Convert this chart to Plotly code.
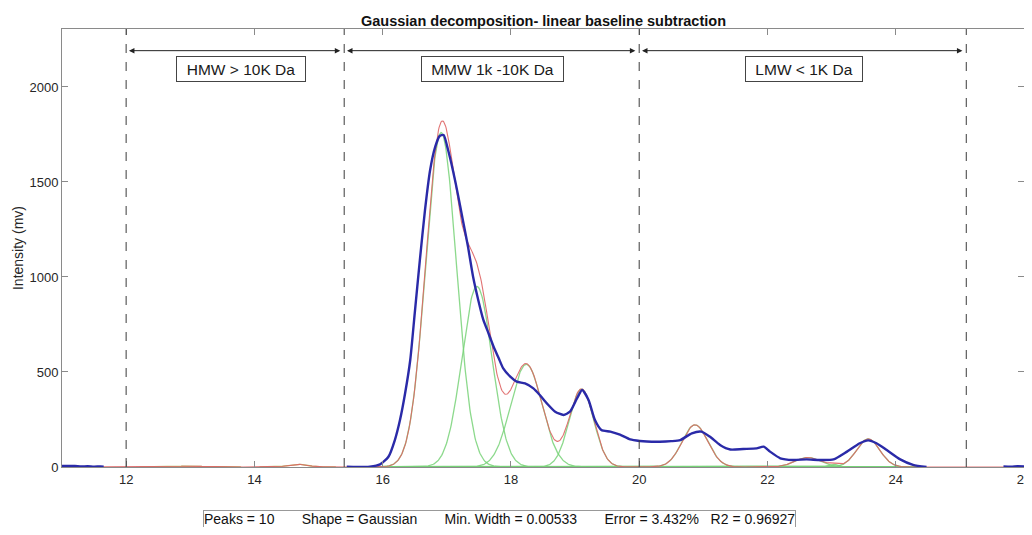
import numpy as np
import plotly.graph_objects as go

# ---------------- data ----------------
# Gaussian components: centre, height, sigma
peak_center = [13.0, 14.68, 16.91, 17.47, 18.24, 19.10, 20.87, 22.63, 23.03, 23.57]
peak_height = [5, 14, 1760, 950, 540, 410, 222, 50, 14, 148]
peak_sigma  = [0.20, 0.15, 0.24, 0.235, 0.245, 0.19, 0.20, 0.20, 0.08, 0.18]

# measured signal (blue), segments separated by None where hidden
meas_x = [11.0, 11.1, 11.2, 11.3, 11.4, 11.5, 11.6, 11.65, None,
          15.44, 15.6, 15.8, 15.96, 16.09, 16.19, 16.27, 16.35, 16.43, 16.50, 16.58,
          16.66, 16.74, 16.82, 16.89, 16.95, 17.02, 17.10, 17.17, 17.25, 17.33,
          17.41, 17.49, 17.57, 17.65, 17.73, 17.81, 17.88, 17.99, 18.09, 18.22,
          18.35, 18.45, 18.56, 18.69, 18.82, 18.92, 19.03, 19.11, 19.21, 19.31,
          19.41, 19.55, 19.70, 19.86, 20.01, 20.12, 20.32, 20.50, 20.64, 20.82,
          20.97, 21.10, 21.26, 21.42, 21.62, 21.83, 21.94, 22.04, 22.20, 22.40,
          22.61, 22.82, 23.03, 23.24, 23.44, 23.57, 23.70, 23.86, 24.07, 24.27,
          24.48, None, 25.68, 25.8, 25.9, 26.0]
meas_y = [6, 5, 5, 3, 4, 2, 3, 2, None,
          1, 0, 2, 14, 54, 142, 247, 388, 563, 809, 1089,
          1352, 1563, 1686, 1742, 1747, 1668, 1554, 1440, 1300, 1160,
          1001, 879, 774, 704, 633, 572, 519, 475, 449, 440,
          414, 379, 335, 291, 274, 291, 361, 405, 353, 247,
          195, 186, 170, 145, 137, 134, 133, 136, 142, 177,
          186, 160, 116, 92, 95, 98, 107, 81, 46, 37,
          40, 37, 40, 81, 125, 140, 125, 89, 40, 11,
          0, None, 3, 2, 4, 3]

# region boundaries and labels
bound_x = [12.0, 15.4, 20.0, 25.1]
region_labels = ["HMW > 10K Da", "MMW 1k -10K Da", "LMW < 1K Da"]
region_label_x = [13.79, 17.705, 22.57]
region_label_y = 2097
arrow_y = 2191

title_text = "Gaussian decomposition- linear baseline subtraction"
y_title = "Intensity (mv)"
stats_text = ("Peaks = 10       Shape = Gaussian       Min. Width = 0.00533       "
              "Error = 3.432%   R2 = 0.96927")

x_ticks = [12, 14, 16, 18, 20, 22, 24, 26]
y_ticks = [0, 500, 1000, 1500, 2000]

# ---------------- figure ----------------
grid = np.linspace(11, 26, 1501)
comps = [h * np.exp(-0.5 * ((grid - c) / s) ** 2)
         for c, h, s in zip(peak_center, peak_height, peak_sigma)]
fit = np.sum(comps, axis=0)

fig = go.Figure()

# green components
win = (grid >= 15.9) & (grid <= 24.4)
for i, comp in enumerate(comps):
    if peak_center[i] < 15.9:
        mask = np.abs(grid - peak_center[i]) < 4 * peak_sigma[i]
        col = "rgba(160,175,70,0.8)"
    else:
        mask = win
        col = "rgba(120,210,120,0.85)"
    fig.add_trace(go.Scatter(x=grid[mask], y=comp[mask], mode="lines",
                             line=dict(color=col, width=1.3),
                             hoverinfo="skip", showlegend=False))

# red fitted sum
fig.add_trace(go.Scatter(x=grid, y=fit, mode="lines",
                         line=dict(color="rgba(222,100,100,0.9)", width=1.1),
                         showlegend=False))

# blue measured data
fig.add_trace(go.Scatter(x=meas_x, y=meas_y, mode="lines",
                         line=dict(color="#2a2aa8", width=2.4, shape="spline",
                                   smoothing=0.6),
                         connectgaps=False, showlegend=False))

shapes = []
for bx in bound_x:
    shapes.append(dict(type="line", xref="x", yref="paper", x0=bx, x1=bx,
                       y0=0, y1=1, line=dict(color="#3a3a3a", width=1, dash="dash")))
fig.update_layout(shapes=shapes)

annotations = []
box_w = [126, 139, 114]
for i in range(3):
    x0 = bound_x[i] + 0.02
    x1 = bound_x[i + 1] - 0.06
    annotations.append(dict(x=x1, y=arrow_y, ax=x0, ay=arrow_y, xref="x", yref="y",
                            axref="x", ayref="y", text="", showarrow=True,
                            arrowhead=2, startarrowhead=2, arrowside="end+start",
                            arrowsize=1.1, startarrowsize=1.1,
                            arrowwidth=1, arrowcolor="#222222"))
    annotations.append(dict(x=region_label_x[i], y=region_label_y, xref="x", yref="y",
                            text=region_labels[i], showarrow=False,
                            width=box_w[i], height=22, align="center", valign="middle",
                            font=dict(family="Liberation Sans, Arial", size=15.5,
                                      color="#1a1a1a"),
                            bgcolor="white", bordercolor="#444444", borderwidth=1,
                            borderpad=1))
# title
annotations.append(dict(x=0.5, y=1, xref="paper", yref="paper", yshift=-2,
                        xanchor="center", yanchor="bottom", showarrow=False,
                        text="<b>" + title_text + "</b>",
                        font=dict(family="Liberation Sans, Arial", size=14.5,
                                  color="#111111")))
# y-axis title
annotations.append(dict(x=-0.0457, y=0.5, xref="paper", yref="paper",
                        xanchor="center", yanchor="middle", showarrow=False,
                        textangle=-90, text=y_title,
                        font=dict(family="Liberation Sans, Arial", size=14,
                                  color="#262626")))
# stats box
annotations.append(dict(x=0.4553, y=-0.099, xref="paper", yref="paper",
                        text=stats_text, showarrow=False, xanchor="center",
                        yanchor="top",
                        font=dict(family="Liberation Sans, Arial", size=14,
                                  color="#111111"),
                        bgcolor="white", bordercolor="#999999", borderwidth=1,
                        borderpad=0))
fig.update_layout(annotations=annotations)

# the page adds an 8px body margin; keep the whole page within the window
fig.update_layout(
    width=1024, height=519,
    margin=dict(l=54, r=8, t=21, b=60, autoexpand=False),
    paper_bgcolor="white", plot_bgcolor="white",
    font=dict(family="Liberation Sans, Arial", size=12, color="#262626"),
)
fig.update_xaxes(range=[11, 26], tickvals=x_ticks, ticks="inside", ticklen=6,
                 tickcolor="#8a8a8a", showline=True, linecolor="#8a8a8a",
                 linewidth=1, mirror="ticks", showgrid=False, zeroline=False,
                 automargin=False, tickfont=dict(size=13, color="#262626"))
fig.update_yaxes(range=[0, 2305], tickvals=y_ticks, ticks="inside", ticklen=6,
                 tickcolor="#8a8a8a", showline=True, linecolor="#8a8a8a",
                 linewidth=1, mirror="ticks", showgrid=False, zeroline=False,
                 automargin=False, tickfont=dict(size=13, color="#262626"))

fig.write_html("out.html")
